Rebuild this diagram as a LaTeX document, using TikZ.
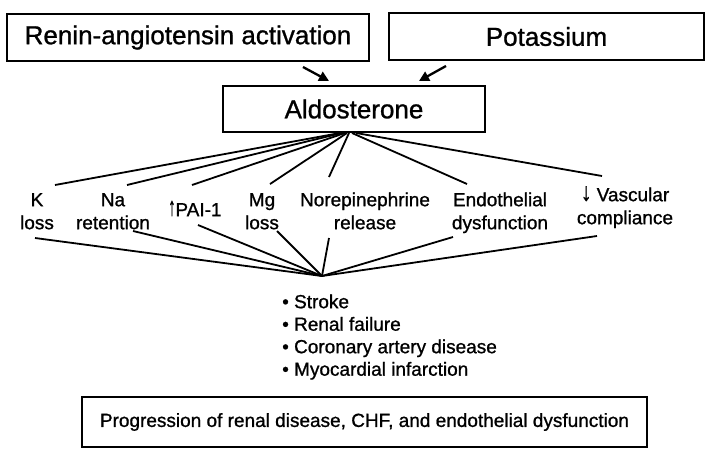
\documentclass[tikz,border=0pt]{standalone}
\usepackage{fontspec}
\setmainfont[FakeBold=1]{Liberation Sans}
\usetikzlibrary{arrows.meta}
\newcommand{\uparrowglyph}{\raisebox{\depth}{\resizebox*{7pt}{15.5pt}{↑}}}
\newcommand{\downarrowglyph}{\raisebox{\depth}{\resizebox*{11pt}{15pt}{↓}}}
\begin{document}
\begin{tikzpicture}[x=1pt,y=-1pt,
  box/.style={draw, line width=1.8pt, inner sep=0pt},
  bigfont/.style={font=\fontsize{26}{30}\selectfont},
  midfont/.style={font=\fontsize{19}{23}\selectfont, align=center, inner sep=0pt, anchor=north},
  fan/.style={line width=1.8pt},
  inarrow/.style={line width=2.3pt, -{Triangle[length=10pt,width=10pt]}}]
\useasboundingbox (0,0) rectangle (720,472);

% top boxes
\node[box, bigfont, minimum width=362pt, minimum height=47pt] (ra) at (188,37.5) {Renin-angiotensin activation};
\node[box, bigfont, minimum width=315pt, minimum height=47pt] (k) at (546.5,36.5) {Potassium};
\node[box, bigfont, minimum width=262pt, minimum height=46pt] (ald) at (354,109) {Aldosterone};

% arrows
\coordinate (a1s) at (303,67);
\coordinate (a1e) at (329,81);
\coordinate (a2s) at (446,66);
\coordinate (a2e) at (419,81);
\draw[inarrow] (a1s) -- (a1e);
\draw[inarrow] (a2s) -- (a2e);

% labels (north = first baseline - 16.1)
\node[midfont] (l1) at (37,189.9) {\strut K\\\strut loss};
\node[midfont] (l2) at (113,189.9) {\strut Na\\\strut retention};
\node[midfont] (l3) at (195,199.9) {\strut\uparrowglyph PAI-1};
\node[midfont] (l4) at (262,189.9) {\strut Mg\\\strut loss};
\node[midfont] (l5) at (365,189.9) {\strut Norepinephrine\\\strut release};
\node[midfont] (l6) at (500,189.9) {\strut Endothelial\\\strut dysfunction};
\node[midfont] (l7) at (625,184.9) {\strut\downarrowglyph\hspace{5pt}Vascular\\\strut compliance};

% fan top start points on Aldosterone bottom
\coordinate (s1) at (340,133);
\coordinate (s2) at (342,133);
\coordinate (s3) at (345,133);
\coordinate (s4) at (347,133);
\coordinate (s5) at (349,133);
\coordinate (s6) at (352,133);
\coordinate (s7) at (356,133);
% fan top end points above labels
\coordinate (t1) at (55,185);
\coordinate (t2) at (127,185);
\coordinate (t3) at (192,185);
\coordinate (t4) at (270,184);
\coordinate (t5) at (329,177);
\coordinate (t6) at (467,184);
\coordinate (t7) at (602,176);
\foreach \i in {1,...,7} \draw[fan] (s\i) -- (t\i);

% fan bottom
\coordinate (b1) at (35,238);
\coordinate (b2) at (133,231);
\coordinate (b3) at (198,225);
\coordinate (b4) at (277,231);
\coordinate (b5) at (329,238);
\coordinate (b6) at (453,237);
\coordinate (b7) at (597,236);
\coordinate (conv) at (322,276);
\foreach \i in {1,...,7} \draw[fan] (b\i) -- (conv);

% outcomes list
\node[font=\fontsize{19}{22.5}\selectfont, align=left, anchor=north west, inner sep=0pt] (list) at (282,292.25) {\strut• Stroke\\\strut• Renal failure\\\strut• Coronary artery disease\\\strut• Myocardial infarction};

% bottom box
\node[box, font=\fontsize{19}{23}\selectfont, minimum width=565pt, minimum height=50pt] (prog) at (364.5,422) {Progression of renal disease, CHF, and endothelial dysfunction};
\end{tikzpicture}
\end{document}
